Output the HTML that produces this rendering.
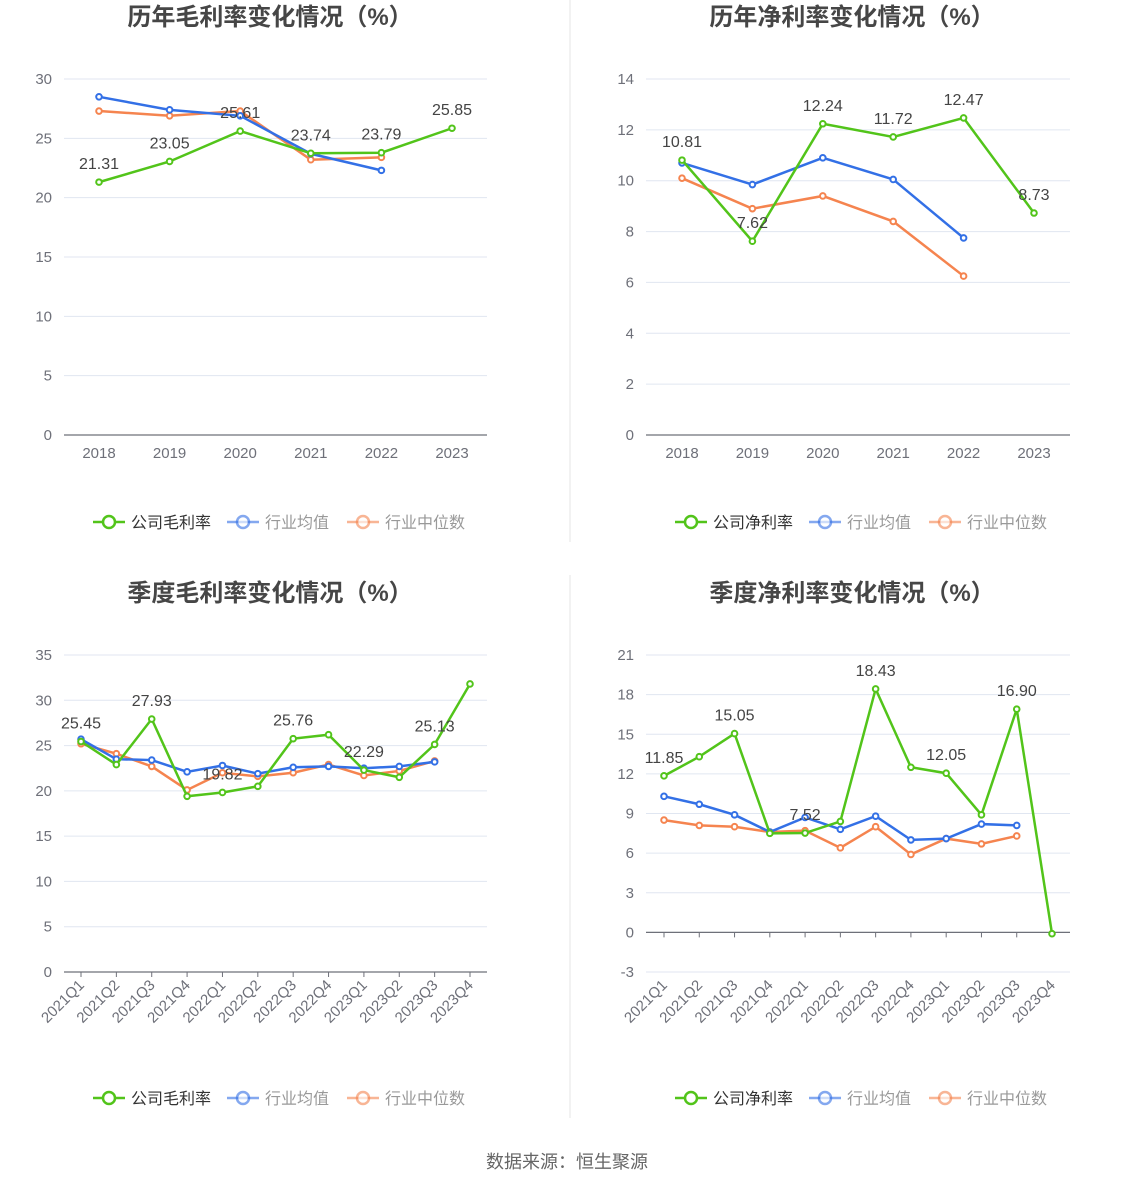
<!DOCTYPE html>
<html><head><meta charset="utf-8"><style>
body{margin:0;background:#fff;}
svg{display:block;font-family:"Liberation Sans","Noto Sans CJK SC",sans-serif;}
</style></head><body>
<svg id="s" width="1134" height="1188" xmlns="http://www.w3.org/2000/svg">
<line x1="570" y1="0" x2="570" y2="542" stroke="#e6e6e6"/>
<line x1="570" y1="575" x2="570" y2="1118" stroke="#e6e6e6"/>
<text x="567" y="1168" font-size="18" fill="#666" text-anchor="middle">数据来源：恒生聚源</text>
</svg>
<script>
const S=document.getElementById('s');let h='';
const G='#52c41a',B='#3370e6',O='#f5844f';
function chart(o){
 const {x0,x1,yTop,yBot,min,max,step,cats,ser,title,tY,rot,leg,legY,labels,zeroAxis,cx}=o;
 h+=`<text x="${cx}" y="${tY}" font-size="24" font-weight="bold" fill="#464646" text-anchor="middle">${title}</text>`;
 const Y=v=>yBot-(v-min)/(max-min)*(yBot-yTop);
 for(let v=min;v<=max+1e-9;v+=step){const y=Y(v);
  h+=`<line x1="${x0}" y1="${y}" x2="${x1}" y2="${y}" stroke="#e0e6f1"/>`;
  h+=`<text x="${x0-12}" y="${y+5}" font-size="15" fill="#6e7079" text-anchor="end">${v}</text>`;}
 const ay=zeroAxis?Y(0):yBot;
 h+=`<line x1="${x0}" y1="${ay}" x2="${x1}" y2="${ay}" stroke="#6e7079" stroke-width="1.2"/>`;
 const n=cats.length;const pad=o.pad;const X=i=>x0+pad+i*(x1-x0-2*pad)/(n-1);
 cats.forEach((c,i)=>{const x=X(i);
  if(o.ticks)h+=`<line x1="${x}" y1="${ay}" x2="${x}" y2="${ay+5}" stroke="#6e7079"/>`;
  if(rot)h+=`<text transform="translate(${x+4},${yBot+14}) rotate(-45)" font-size="15" fill="#6e7079" text-anchor="end">${c}</text>`;
  else h+=`<text x="${x}" y="${yBot+23}" font-size="15" fill="#6e7079" text-anchor="middle">${c}</text>`;});
 ser.slice().reverse().forEach(([col,d])=>{
  const p=d.map((v,i)=>v==null?null:[X(i),Y(v)]).filter(a=>a);
  h+=`<polyline points="${p.map(a=>a.join(',')).join(' ')}" fill="none" stroke="${col}" stroke-width="2.5"/>`;
  p.forEach(a=>h+=`<circle cx="${a[0]}" cy="${a[1]}" r="2.8" fill="#fff" stroke="${col}" stroke-width="2"/>`);});
 labels.forEach(([i,t])=>{h+=`<text x="${X(i)}" y="${Y(ser[0][1][i])-13}" font-size="16" fill="#444" text-anchor="middle">${t}</text>`;});
 const lx=cx-177;[[G,leg,'#333'],[B,'行业均值','#999'],[O,'行业中位数','#999']].forEach(([c,t,tc],k)=>{
  const xs=[lx,lx+134,lx+254][k];
  h+=`<line x1="${xs}" y1="${legY}" x2="${xs+32}" y2="${legY}" stroke="${c}" stroke-width="2.5" opacity="${k?0.6:1}"/><circle cx="${xs+16}" cy="${legY}" r="6" fill="#fff" stroke="${c}" stroke-width="2.5" opacity="${k?0.6:1}"/>`;
  h+=`<text x="${xs+38}" y="${legY+6}" font-size="16" fill="${tc}">${t}</text>`;});
}
const yrs=['2018','2019','2020','2021','2022','2023'];
const qs=['2021Q1','2021Q2','2021Q3','2021Q4','2022Q1','2022Q2','2022Q3','2022Q4','2023Q1','2023Q2','2023Q3','2023Q4'];
chart({x0:64,x1:487,yTop:79,yBot:435,min:0,max:30,step:5,cats:yrs,pad:35,ticks:false,cx:270,tY:25,title:'历年毛利率变化情况（%）',leg:'公司毛利率',legY:522,
 ser:[[G,[21.31,23.05,25.61,23.74,23.79,25.85]],[B,[28.5,27.4,26.9,23.7,22.3,null]],[O,[27.3,26.9,27.3,23.2,23.4,null]]],
 labels:[[0,'21.31'],[1,'23.05'],[2,'25.61'],[3,'23.74'],[4,'23.79'],[5,'25.85']]});
chart({x0:646,x1:1070,yTop:79,yBot:435,min:0,max:14,step:2,cats:yrs,pad:36,ticks:false,cx:852,tY:25,title:'历年净利率变化情况（%）',leg:'公司净利率',legY:522,
 ser:[[G,[10.81,7.62,12.24,11.72,12.47,8.73]],[B,[10.7,9.85,10.9,10.05,7.75,null]],[O,[10.1,8.9,9.4,8.4,6.25,null]]],
 labels:[[0,'10.81'],[1,'7.62'],[2,'12.24'],[3,'11.72'],[4,'12.47'],[5,'8.73']]});
chart({x0:64,x1:487,yTop:655,yBot:972,min:0,max:35,step:5,cats:qs,pad:17,ticks:true,rot:true,cx:270,tY:601,title:'季度毛利率变化情况（%）',leg:'公司毛利率',legY:1098,
 ser:[[G,[25.45,22.9,27.93,19.4,19.82,20.5,25.76,26.2,22.29,21.5,25.13,31.8]],[B,[25.7,23.5,23.4,22.1,22.8,21.9,22.6,22.7,22.5,22.7,23.2,null]],[O,[25.2,24.1,22.7,20.1,22.0,21.6,22.0,22.9,21.7,22.2,23.3,null]]],
 labels:[[0,'25.45'],[2,'27.93'],[4,'19.82'],[6,'25.76'],[8,'22.29'],[10,'25.13']]});
chart({x0:646,x1:1070,yTop:655,yBot:972,min:-3,max:21,step:3,cats:qs,pad:18,ticks:true,rot:true,zeroAxis:true,cx:852,tY:601,title:'季度净利率变化情况（%）',leg:'公司净利率',legY:1098,
 ser:[[G,[11.85,13.3,15.05,7.5,7.52,8.4,18.43,12.5,12.05,8.9,16.90,-0.1]],[B,[10.3,9.7,8.9,7.6,8.7,7.8,8.8,7.0,7.1,8.2,8.1,null]],[O,[8.5,8.1,8.0,7.6,7.7,6.4,8.0,5.9,7.1,6.7,7.3,null]]],
 labels:[[0,'11.85'],[2,'15.05'],[4,'7.52'],[6,'18.43'],[8,'12.05'],[10,'16.90']]});
S.insertAdjacentHTML('beforeend',h);
</script>
</body></html>
